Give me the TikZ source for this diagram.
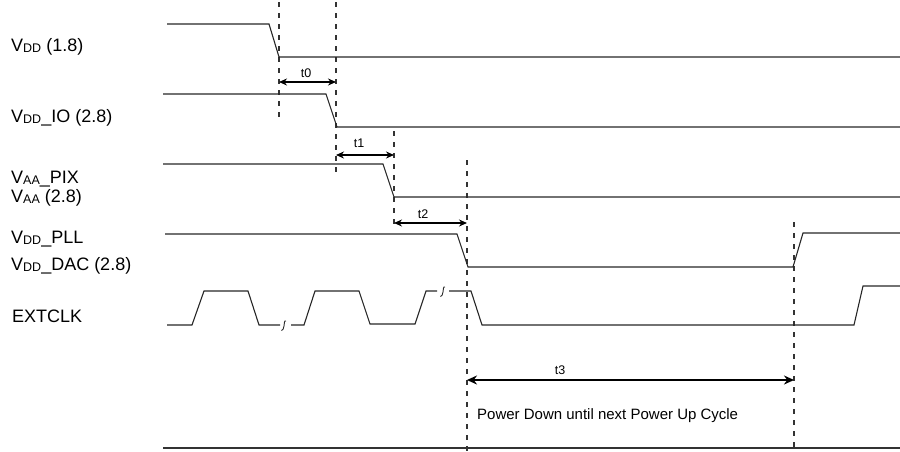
\documentclass[tikz,border=0pt]{standalone}
\usepackage{fontspec}
\setmainfont{Liberation Sans}
\usetikzlibrary{arrows.meta}
\newcommand\subx[1]{\raisebox{-1.3pt}{\fontsize{12.5}{12.5}\selectfont #1}}
\tikzset{
  sig/.style={line width=1.1pt, black!85},
  guide/.style={line width=1.1pt, black!80, dash pattern=on 5pt off 6pt},
  dim/.style={line width=1.3pt, {Stealth[length=8pt,width=7pt]}-{Stealth[length=8pt,width=7pt]}},
  bigdim/.style={line width=2pt, {Stealth[length=10pt,width=9pt]}-{Stealth[length=10pt,width=9pt]}},
  lab/.style={anchor=base west, inner sep=0pt, font=\fontsize{18}{18}\selectfont},
  tlab/.style={anchor=base, inner sep=0pt, font=\fontsize{12.5}{12.5}\selectfont},
  brk/.style={line width=0.9pt, black!85}
}
\begin{document}
\begin{tikzpicture}[x=1pt,y=-1pt]
\useasboundingbox (0,0) rectangle (900,451);
% guide lines
\coordinate (g0t) at (279,2);   \coordinate (g0b) at (279,120);
\coordinate (g1t) at (336,2);   \coordinate (g1b) at (336,177);
\coordinate (g2t) at (394,131); \coordinate (g2b) at (394,228);
\coordinate (g3t) at (467,160); \coordinate (g3b) at (467,451);
\coordinate (g4t) at (794,222); \coordinate (g4b) at (794,451);
\foreach \g in {0,...,4} \draw[guide] (g\g t) -- (g\g b);
% labels
\node[lab] (l1) at (11,51) {V\subx{DD} (1.8)};
\node[lab] (l2) at (11,122) {V\subx{DD}\_IO (2.8)};
\node[lab] (l3) at (11,183) {V\subx{AA}\_PIX};
\node[lab] (l4) at (11,202) {V\subx{AA} (2.8)};
\node[lab] (l5) at (11,243) {V\subx{DD}\_PLL};
\node[lab] (l6) at (11,270) {V\subx{DD}\_DAC (2.8)};
\node[lab] (l7) at (12,322) {EXTCLK};
% signals
\draw[sig] (167,24) -- (269,24) -- (279,57) -- (900,57);
\draw[sig] (163,94) -- (326,94) -- (337,127) -- (900,127);
\draw[sig] (163,164) -- (383,164) -- (394,197) -- (900,197);
\draw[sig] (165,234) -- (457,234) -- (468,267) -- (793,267) -- (803,233) -- (900,233);
% EXTCLK
\draw[sig] (167,325) -- (192,325) -- (204,291) -- (248,291) -- (259,325) -- (280,325);
\draw[brk] (286,321) .. controls (284,320) and (284.5,324) .. (284,326) .. controls (283.5,328) and (283,331) .. (281.5,330.5);
\draw[sig] (291,325) -- (304,325) -- (315,291) -- (359,291) -- (370,324) -- (415,324) -- (426,291) -- (437,291);
\draw[brk] (445,287) .. controls (443,286) and (443.5,290) .. (443,292) .. controls (442.5,294) and (442,297) .. (440.5,296.5);
\draw[sig] (449,291) -- (471,291) -- (482,325) -- (854,325) -- (863,286) -- (900,286);
% dimension arrows
\coordinate (a0l) at (279,82);  \coordinate (a0r) at (336,82);
\coordinate (a1l) at (336,155); \coordinate (a1r) at (394,155);
\coordinate (a2l) at (394,223); \coordinate (a2r) at (467,223);
\coordinate (a3l) at (467,380); \coordinate (a3r) at (794,380);
\draw[dim] (a0l) -- (a0r);
\draw[dim] (a1l) -- (a1r);
\draw[dim] (a2l) -- (a2r);
\draw[bigdim] (a3l) -- (a3r);
\node[tlab] (t0) at (306,77) {t0};
\node[tlab] (t1) at (359,147) {t1};
\node[tlab] (t2) at (423,218) {t2};
\node[tlab] (t3) at (560,374) {t3};
\node[anchor=base west, inner sep=0pt, font=\fontsize{15}{15}\selectfont] (pd) at (477,419) {Power Down until next Power Up Cycle};
% bottom line
\draw[line width=1.6pt, black!80] (163,448) -- (900,448);
\end{tikzpicture}
\end{document}
